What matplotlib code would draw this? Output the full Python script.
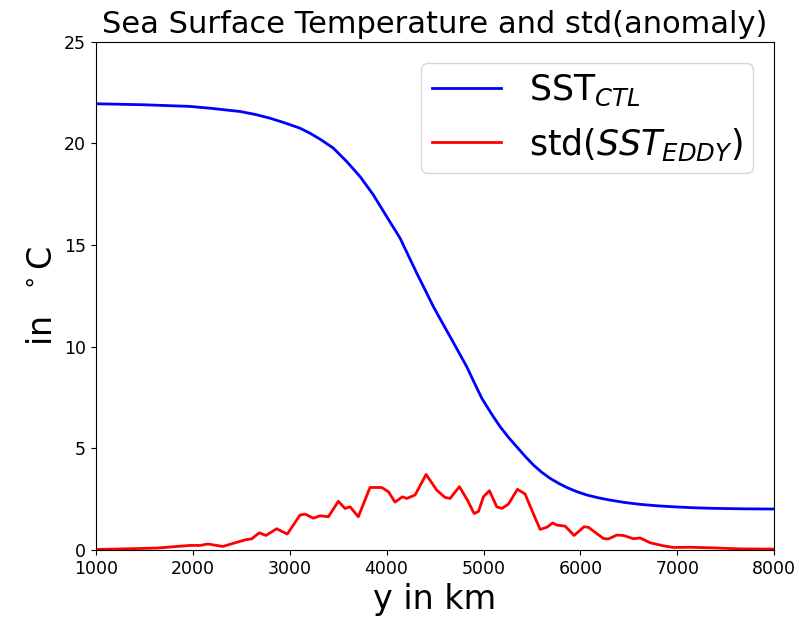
import numpy as np
import matplotlib
matplotlib.use("Agg")
import matplotlib.pyplot as plt

# SST of the control run
y_ctl = [1000, 1500, 1970, 2200, 2487, 2650, 2796, 2930, 3106, 3210, 3313, 3450,
         3588, 3726, 3863, 4001, 4139, 4225, 4311, 4397, 4483, 4569,
         4655, 4741, 4827, 4905, 4982, 5077, 5171, 5257, 5343, 5430, 5516, 5600,
         5687, 5773, 5859, 5960, 6066, 6186, 6306, 6460, 6616, 6790, 6960, 7180,
         7408, 7700, 8000]
sst_ctl = [21.95, 21.90, 21.82, 21.72, 21.57, 21.42, 21.24, 21.04, 20.75, 20.50,
           20.21, 19.77, 19.11, 18.37, 17.47, 16.40, 15.34, 14.48,
           13.62, 12.80, 11.97, 11.23, 10.50, 9.76, 9.02, 8.23, 7.47, 6.74,
           6.07, 5.55, 5.08, 4.61, 4.18, 3.83, 3.53, 3.29, 3.08, 2.88,
           2.71, 2.57, 2.46, 2.34, 2.25, 2.18, 2.13, 2.08, 2.05, 2.03, 2.02]

# std of the eddy anomaly
y_eddy = [1000, 1454, 1627, 1970, 2074, 2156, 2311, 2415, 2555, 2607, 2686, 2755,
          2865, 2975, 3106, 3158, 3244, 3313, 3399, 3502, 3571, 3623, 3708, 3829,
          3950, 4019, 4087, 4163, 4208, 4294, 4407, 4448, 4517, 4603, 4655, 4751,
          4834, 4903, 4948, 4999, 5061, 5137, 5189, 5257, 5350, 5429, 5498, 5584,
          5653, 5715, 5756, 5842, 5935, 6038, 6083, 6238, 6289, 6376, 6444, 6547,
          6616, 6720, 6857, 6961, 7133, 7373, 7649, 8000]
sst_std = [0.03, 0.08, 0.10, 0.23, 0.23, 0.30, 0.18, 0.33, 0.52, 0.55, 0.85, 0.72,
           1.05, 0.79, 1.72, 1.77, 1.57, 1.69, 1.64, 2.40, 2.05, 2.13, 1.64, 3.08,
           3.08, 2.87, 2.36, 2.62, 2.54, 2.71, 3.72, 3.44, 2.95, 2.59, 2.54, 3.12,
           2.46, 1.80, 1.90, 2.62, 2.92, 2.13, 2.05, 2.26, 2.99, 2.76, 1.97, 1.02,
           1.12, 1.34, 1.23, 1.18, 0.72, 1.15, 1.12, 0.57, 0.55, 0.74, 0.72, 0.56,
           0.60, 0.36, 0.21, 0.13, 0.14, 0.11, 0.06, 0.05]

fig = plt.figure(figsize=(7.99, 6.23), dpi=100)
ax = fig.add_axes([0.120, 0.117, 0.849, 0.816])

ax.plot(y_ctl, sst_ctl, color="blue", lw=2, label=r"SST$_{CTL}$")
ax.plot(y_eddy, sst_std, color="red", lw=2, label=r"std($SST_{EDDY}$)")

ax.set_xlim(1000, 8000)
ax.set_ylim(0, 25)
ax.set_xticks(np.arange(1000, 8001, 1000))
ax.set_yticks(np.arange(0, 26, 5))
ax.tick_params(labelsize=12.5)
ax.set_xlabel("y in km", fontsize=24)
ax.set_ylabel(r"in $\ ^\circ$C", fontsize=24)
ax.set_title("Sea Surface Temperature and std(anomaly)", fontsize=22)
ax.legend(fontsize=25, loc="upper right", borderpad=0.3, borderaxespad=0.6)

fig.savefig("out.png", dpi=100)
